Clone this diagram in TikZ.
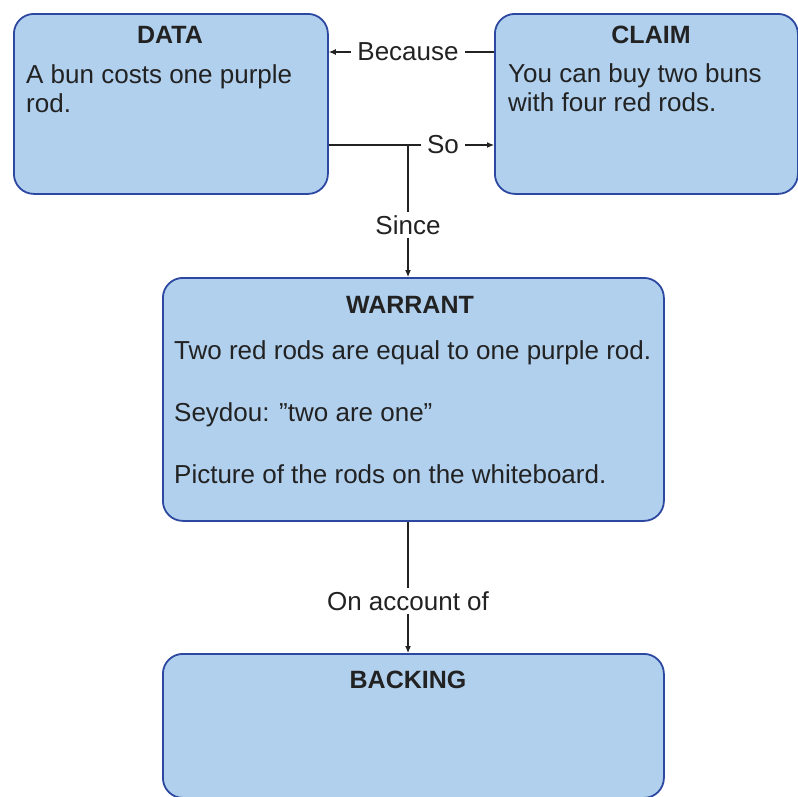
\documentclass[tikz,border=0pt]{standalone}
\usepackage{fontspec}
\setmainfont{Liberation Sans}
\usetikzlibrary{arrows.meta}
\definecolor{boxfill}{RGB}{176,208,238}
\definecolor{boxline}{RGB}{44,72,160}
\definecolor{ink}{RGB}{34,34,34}
\begin{document}
\begin{tikzpicture}[x=1pt,y=-1pt,
  box/.style={draw=boxline,line width=1.8pt,fill=boxfill,rounded corners=20pt,anchor=north west,inner sep=0pt},
  ttl/.style={font=\fontsize{25}{29}\selectfont\bfseries,text=ink,anchor=base,inner sep=0pt},
  body/.style={font=\fontsize{26}{29}\selectfont,text=ink,anchor=base west,inner sep=0pt,align=left},
  lbl/.style={font=\fontsize{26}{29}\selectfont,text=ink,inner xsep=6pt,inner ysep=3pt},
  conn/.style={line width=1.1pt,draw=ink},
  arr/.style={conn,-{Latex[length=7pt,width=6pt]}}]
\useasboundingbox (0,0) rectangle (798,796);
% boxes
\node[box,minimum width=314pt,minimum height=180pt] (data) at (13,13) {};
\node[box,minimum width=303pt,minimum height=180pt] (claim) at (494,13) {};
\node[box,minimum width=501pt,minimum height=243pt] (warrant) at (162,277) {};
\node[box,minimum width=501pt,minimum height=144pt] (backing) at (162,653) {};
% titles
\node[ttl] (dataT) at (170,43) {DATA};
\node[ttl] (claimT) at (651,43) {CLAIM};
\node[ttl] (warrantT) at (410,313) {WARRANT};
\node[ttl] (backingT) at (408,688) {BACKING};
% body texts (base anchor = baseline of the last line)
\node[body] (dataB) at (26,112) {A bun costs one purple\\rod.};
\node[body] (claimB) at (508,111) {You can buy two buns\\with four red rods.};
\node[body] (w1) at (174,359) {Two red rods are equal to one purple rod.};
\node[body] (w2) at (174,421) {Seydou: ”two are one”};
\node[body] (w3) at (174,483) {Picture of the rods on the whiteboard.};
% connectors
\node[lbl] (because) at (408,52) {Because};
\draw[conn] (claim.west |- because.east) -- (because.east);
\draw[arr] (because.west) -- (data.east |- because.west);
\node[lbl] (so) at (443,145) {So};
\coordinate (j) at (408,145);
\draw[conn] (data.east |- so.west) -- (so.west);
\draw[arr] (so.east) -- (claim.west |- so.east);
\node[lbl] (since) at (408,225) {Since};
\draw[conn] (j) -- (since.north);
\draw[arr] (since.south) -- (warrant.north -| since.south);
\node[lbl] (account) at (408,601) {On account of};
\draw[conn] (warrant.south -| account.north) -- (account.north);
\draw[arr] (account.south) -- (backing.north -| account.south);
\end{tikzpicture}
\end{document}
